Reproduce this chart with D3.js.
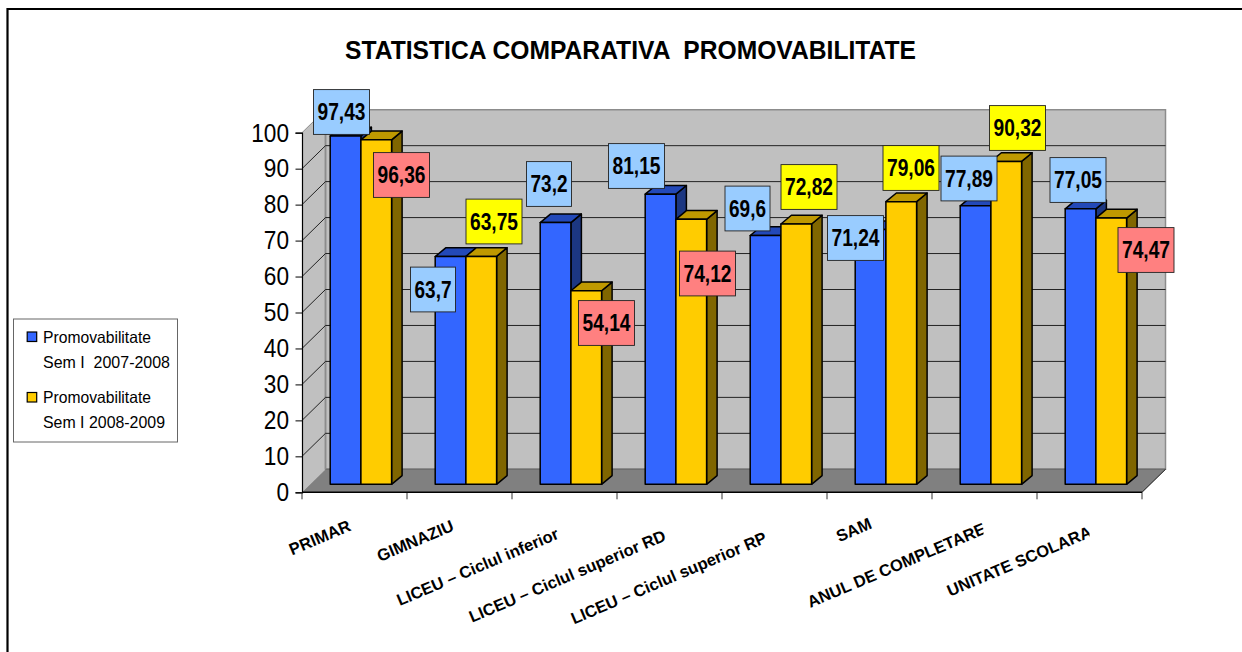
<!DOCTYPE html>
<html>
<head>
<meta charset="utf-8">
<script src="https://cdn.jsdelivr.net/npm/d3@7"></script>
<style>
body { margin: 0; background: #fff; overflow: hidden; }
text { font-family: "Liberation Sans", Arial, sans-serif; fill: #000; }
</style>
</head>
<body>
<div id="chart"></div>
<script>
var categories = ['PRIMAR', 'GIMNAZIU', 'LICEU \u2013 Ciclul inferior', 'LICEU \u2013 Ciclul superior RD',
    'LICEU \u2013 Ciclul superior RP', 'SAM', 'ANUL DE COMPLETARE', 'UNITATE SCOLARA'];
var sem2007 = [97.43, 63.7, 73.2, 81.15, 69.6, 71.24, 77.89, 77.05];
var sem2008 = [96.36, 63.75, 54.14, 74.12, 72.82, 79.06, 90.32, 74.47];
var yTicks = [0, 10, 20, 30, 40, 50, 60, 70, 80, 90, 100];
var legendLines = [['Promovabilitate', 'Sem I  2007-2008'], ['Promovabilitate', 'Sem I 2008-2009']];

// the data labels were moved by hand in the original, so centres are kept apart
var labelCentres2007 = [[341.5, 112], [433, 289.5], [549, 184], [636.5, 166], [747.5, 208.5], [855.5, 238], [969, 178.5], [1078, 180]];
var labelCentres2008 = [[401.5, 175], [494, 221.5], [606.5, 323], [707.5, 273.5], [809, 187], [911, 168], [1017.5, 128], [1146, 250]];

var width = 1242, height = 652;

var svg = d3.select('#chart').append('svg')
    .attr('width', width)
    .attr('height', height)
    .style('display', 'block');

var wallDx = 23.5, wallDy = -23;
var barDx = 10.5, barDy = -8.7;
var barWidth = 30.7, groupInset = 28.2;

var x = d3.scaleBand().domain(categories).range([302, 1142]);
var y = d3.scaleLinear().domain([0, 100]).range([492.3, 132.7]);
var yBar = d3.scaleLinear().domain([0, 100]).range([484.3, 126.8]);

var chart = svg.append('g');

// frame, open on the right and at the bottom
chart.append('path')
    .attr('d', 'M7.5,652V9H1242')
    .attr('fill', 'none')
    .attr('stroke', '#000')
    .attr('stroke-width', 2.2);

// title
chart.append('text')
    .attr('x', 630.5)
    .attr('y', 59)
    .attr('text-anchor', 'middle')
    .attr('font-size', 26.5)
    .attr('font-weight', 'bold')
    .attr('textLength', 571)
    .attr('lengthAdjust', 'spacingAndGlyphs')
    .style('white-space', 'pre')
    .text('STATISTICA COMPARATIVA  PROMOVABILITATE');

// walls and floor
var x0 = x.range()[0], x1 = x.range()[1];
var yBottom = y(0), yTop = y(100);

chart.append('path')
    .attr('d', d3.line()([[x0, yBottom], [x0 + wallDx, yBottom + wallDy], [x0 + wallDx, yTop + wallDy], [x0, yTop]]))
    .attr('fill', '#c0c0c0');
chart.append('path')
    .attr('d', d3.line()([[x0 + wallDx, yBottom + wallDy], [x1 + wallDx, yBottom + wallDy], [x1 + wallDx, yTop + wallDy], [x0 + wallDx, yTop + wallDy]]) + 'Z')
    .attr('fill', '#c0c0c0')
    .attr('stroke', '#8c8c8c')
    .attr('stroke-width', 1.5);
chart.append('path')
    .attr('d', d3.line()([[x0, yBottom], [x0 + wallDx, yBottom + wallDy], [x1 + wallDx, yBottom + wallDy], [x1, yBottom]]) + 'Z')
    .attr('fill', '#808080');
chart.append('line')
    .attr('x1', x0 + wallDx).attr('x2', x1 + wallDx)
    .attr('y1', yBottom + wallDy).attr('y2', yBottom + wallDy)
    .attr('stroke', '#6e6e6e').attr('stroke-width', 1.5);
chart.append('line')
    .attr('x1', x0 + wallDx).attr('x2', x0 + wallDx)
    .attr('y1', yBottom + wallDy).attr('y2', yTop + wallDy)
    .attr('stroke', '#8c8c8c').attr('stroke-width', 1.5);

// gridlines
chart.selectAll('.grid')
    .data(yTicks.slice(1, -1))
    .enter().append('path')
    .attr('class', 'grid')
    .attr('d', function(d) {
        return d3.line()([[x0, y(d)], [x0 + wallDx, y(d) + wallDy], [x1 + wallDx, y(d) + wallDy]]);
    })
    .attr('fill', 'none')
    .attr('stroke', '#111')
    .attr('stroke-width', 0.9);

// front edges of the side wall and floor
chart.append('path')
    .attr('d', d3.line()([[x0 + wallDx, yTop + wallDy], [x0, yTop]]))
    .attr('stroke', '#8c8c8c').attr('stroke-width', 1);
chart.append('path')
    .attr('d', d3.line()([[x1, yBottom], [x1 + wallDx, yBottom + wallDy]]))
    .attr('stroke', '#111').attr('stroke-width', 1);

// axes
var yAxis = d3.axisLeft(y).tickValues(yTicks).tickSize(6.5).tickPadding(6.5);
var yAxisG = chart.append('g').attr('transform', 'translate(' + x0 + ',0)').call(yAxis);
yAxisG.selectAll('text')
    .attr('font-size', 26)
    .attr('textLength', function(d) { return String(d).length * 12.6; })
    .attr('lengthAdjust', 'spacingAndGlyphs')
    .style('font-family', '"Liberation Sans", Arial, sans-serif');
yAxisG.selectAll('line').attr('stroke', '#000');
yAxisG.select('.domain').attr('stroke', '#000').attr('stroke-width', 1.2);

var edges = categories.map(function(c) { return x(c); }).concat([x1]);
chart.selectAll('.xtick')
    .data(edges)
    .enter().append('line')
    .attr('class', 'xtick')
    .attr('x1', function(d) { return d; }).attr('x2', function(d) { return d; })
    .attr('y1', yBottom).attr('y2', yBottom + 7)
    .attr('stroke', '#333').attr('stroke-width', 1);
chart.append('line')
    .attr('x1', x0).attr('x2', x1)
    .attr('y1', yBottom).attr('y2', yBottom)
    .attr('stroke', '#000').attr('stroke-width', 1.4);

// 3d bars
function drawBars(values, offset, front, top, side) {
    var bars = chart.selectAll(null)
        .data(values)
        .enter().append('g')
        .attr('stroke', '#000')
        .attr('stroke-width', 1.5)
        .attr('stroke-linejoin', 'round');

    function left(d, i) { return x(categories[i]) + groupInset + offset; }

    bars.append('path')
        .attr('fill', side)
        .attr('d', function(d, i) {
            var r = left(d, i) + barWidth;
            return d3.line()([[r, yBar(0)], [r + barDx, yBar(0) + barDy], [r + barDx, yBar(d) + barDy], [r, yBar(d)]]) + 'Z';
        });
    bars.append('path')
        .attr('fill', top)
        .attr('d', function(d, i) {
            var l = left(d, i), r = l + barWidth;
            return d3.line()([[l, yBar(d)], [l + barDx, yBar(d) + barDy], [r + barDx, yBar(d) + barDy], [r, yBar(d)]]) + 'Z';
        });
    bars.append('rect')
        .attr('fill', front)
        .attr('x', left)
        .attr('y', function(d) { return yBar(d); })
        .attr('width', barWidth)
        .attr('height', function(d) { return yBar(0) - yBar(d); });
}

drawBars(sem2007, 0, '#3366ff', '#2349b8', '#1c3782');
drawBars(sem2008, barWidth, '#ffcc00', '#bf9900', '#806600');

// category labels, rotated and ending under each bar group
// the last two are cut off on the right in the original
var labelEnds = [[352, 530], [455, 530], [560, 538], [667, 540], [768, 542], [873, 528], [987, 533], [1093, 536]];
var labelClipRight = [null, null, null, null, null, null, 983.5, 1089.5];

svg.append('defs').selectAll('clipPath')
    .data(labelClipRight.filter(function(d) { return d; }))
    .enter().append('clipPath')
    .attr('id', function(d) { return 'clip-' + Math.round(d); })
    .append('rect')
    .attr('x', 0).attr('y', 0)
    .attr('width', function(d) { return d; })
    .attr('height', height);

chart.selectAll('.cat')
    .data(categories)
    .enter().append('g')
    .attr('class', 'cat')
    .attr('clip-path', function(d, i) { return labelClipRight[i] ? 'url(#clip-' + Math.round(labelClipRight[i]) + ')' : null; })
    .append('text')
    .attr('transform', function(d, i) {
        return 'translate(' + labelEnds[i][0] + ',' + labelEnds[i][1] + ') rotate(-23)';
    })
    .attr('text-anchor', 'end')
    .attr('font-size', 16.5)
    .attr('font-weight', 'bold')
    .text(function(d) { return d; });

// data labels
function drawLabels(values, centres, fill) {
    var labels = chart.selectAll(null)
        .data(values)
        .enter().append('g')
        .attr('transform', function(d, i) { return 'translate(' + centres[i][0] + ',' + centres[i][1] + ')'; });

    labels.append('rect')
        .attr('x', function(d) { return String(d).length > 4 ? -28 : -22.5; })
        .attr('y', -22.4)
        .attr('width', function(d) { return String(d).length > 4 ? 56 : 45; })
        .attr('height', 44.8)
        .attr('fill', fill)
        .attr('stroke', '#222')
        .attr('stroke-width', 0.9);

    labels.append('text')
        .attr('text-anchor', 'middle')
        .attr('y', 8)
        .attr('font-size', 23)
        .attr('font-weight', 'bold')
        .attr('textLength', function(d) { return String(d).length > 4 ? 48 : 37; })
        .attr('lengthAdjust', 'spacingAndGlyphs')
        .text(function(d) { return String(d).replace('.', ','); });
}

drawLabels(sem2007, labelCentres2007, '#99ccff');
drawLabels(sem2008, labelCentres2008, function(d, i) { return d < sem2007[i] ? '#ff8080' : '#ffff00'; });

// legend
var legend = chart.append('g');
legend.append('rect')
    .attr('x', 13.5).attr('y', 319)
    .attr('width', 164).attr('height', 123)
    .attr('fill', '#fff')
    .attr('stroke', '#666')
    .attr('stroke-width', 1);

var legendColors = ['#3366ff', '#ffcc00'];
var legendWidths = [[108, 127], [108, 122]];
var legendRows = legend.selectAll('.row')
    .data(legendLines)
    .enter().append('g')
    .attr('class', 'row')
    .attr('transform', function(d, i) { return 'translate(0,' + (332 + i * 60.5) + ')'; });

legendRows.append('rect')
    .attr('x', 27.2).attr('y', 0)
    .attr('width', 9.5).attr('height', 9.5)
    .attr('fill', function(d, i) { return legendColors[i]; })
    .attr('stroke', '#000')
    .attr('stroke-width', 1.2);

legendRows.each(function(row, r) {
    d3.select(this).selectAll('text')
        .data(row)
        .enter().append('text')
        .attr('x', 43)
        .attr('y', function(d, i) { return 10.5 + i * 25.3; })
        .attr('font-size', 16.5)
        .attr('textLength', function(d, i) { return legendWidths[r][i]; })
        .attr('lengthAdjust', 'spacingAndGlyphs')
        .style('white-space', 'pre')
        .text(function(d) { return d; });
});
</script>
</body>
</html>
